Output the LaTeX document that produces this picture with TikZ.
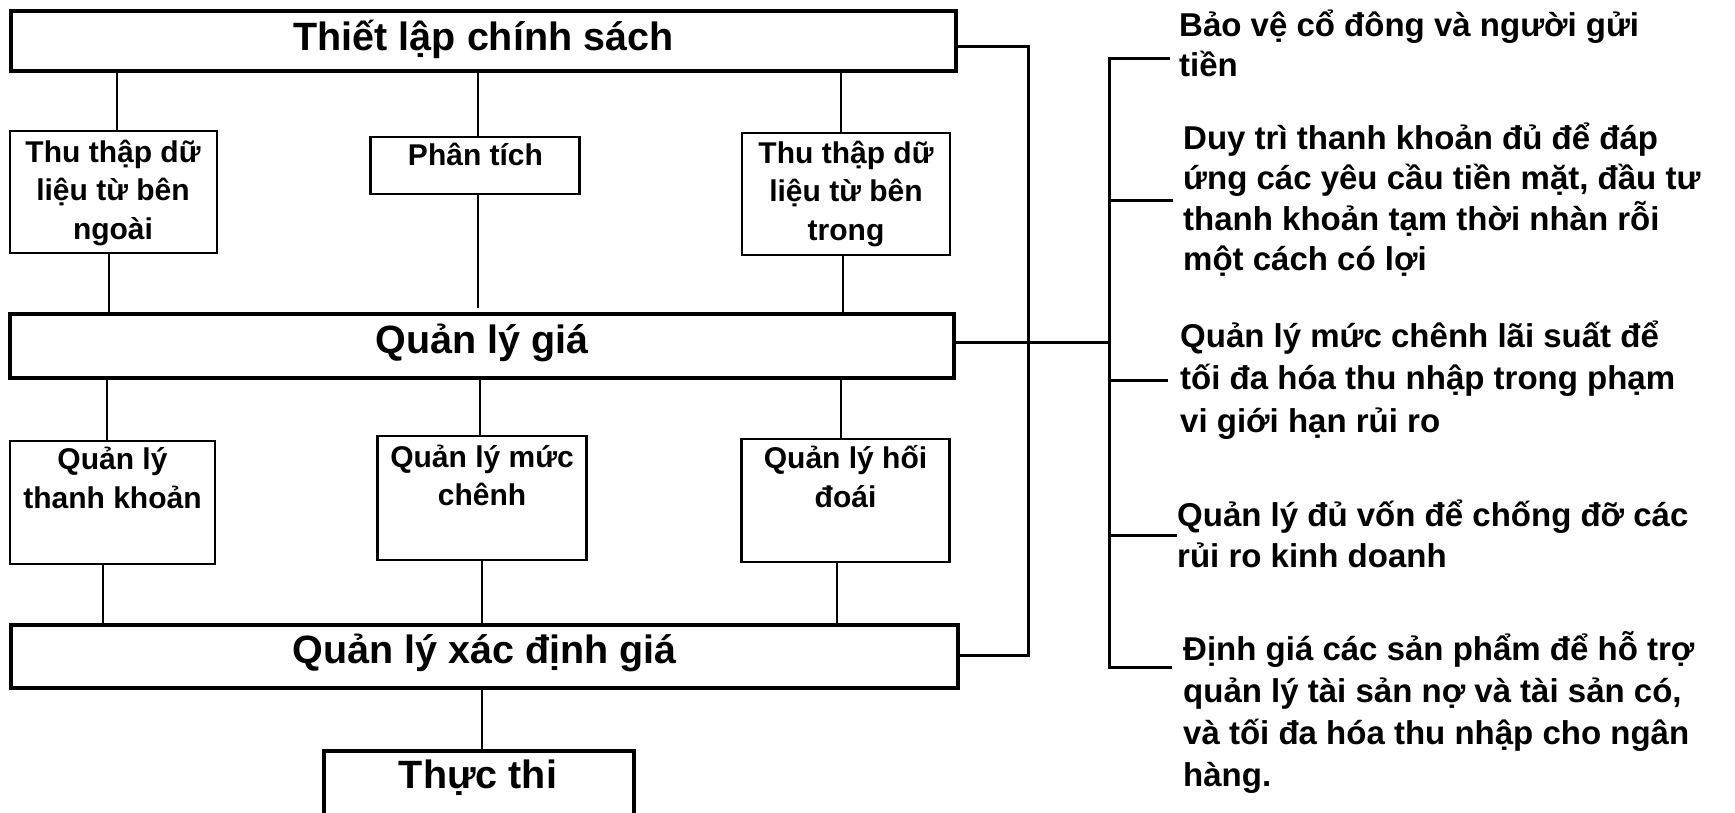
\documentclass[tikz,border=0pt]{standalone}
\usepackage{fontspec}
\setmainfont{Liberation Sans}

% Stacked lines with a fixed baseline distance; the box's baseline is the first line's.
\newcommand\linesC[2]{\vtop{\baselineskip=#1\lineskiplimit=-1000pt\relax\halign{\hfil##\hfil\cr#2\crcr}}}
\newcommand\linesL[2]{\vtop{\baselineskip=#1\lineskiplimit=-1000pt\relax\halign{##\hfil\cr#2\crcr}}}

\tikzset{
  bigbox/.style={draw, line width=4pt, inner sep=0pt, outer sep=0pt, fill=white},
  smallbox/.style={draw, line width=2.8pt, inner sep=0pt, outer sep=0pt, fill=white},
  bigtext/.style={inner sep=0pt, anchor=base, font=\fontsize{39.5}{47}\selectfont\bfseries},
  smalltext/.style={inner sep=0pt, anchor=base, font=\fontsize{30}{38}\selectfont\bfseries},
  sidetext/.style={inner sep=0pt, anchor=base west, font=\fontsize{33}{41}\selectfont\bfseries},
  conn/.style={line width=2.6pt},
  loopline/.style={line width=3pt},
}

\begin{document}
\begin{tikzpicture}[x=1pt, y=-1pt]
\useasboundingbox (0,0) rectangle (1735,812);
\clip (0,0) rectangle (1735,812);

% main chain of wide boxes
\node[bigbox, minimum width=945pt, minimum height=60pt]   (top)  at (483.5,41) {};
\node[bigbox, minimum width=944pt, minimum height=63.5pt] (mid)  at (482,345.75) {};
\node[bigbox, minimum width=947pt, minimum height=63pt]   (low)  at (484.5,656.5) {};
\node[bigbox, minimum width=310pt, minimum height=80pt]   (exec) at (479,790.5) {};

\node[bigtext] (ttop)  at (483.5,50) {Thiết lập chính sách};
\node[bigtext] (tmid)  at (482,353) {Quản lý giá};
\node[bigtext] (tlow)  at (484.5,663) {Quản lý xác định giá};
\node[bigtext] (texec) at (478,788) {Thực thi};

% first row of small boxes
\node[smallbox, minimum width=207pt, minimum height=122pt] (b1) at (113.5,192) {};
\node[smallbox, minimum width=209pt, minimum height=57pt]  (b2) at (475,165.5) {};
\node[smallbox, minimum width=208pt, minimum height=122pt] (b3) at (846,194) {};

\node[smalltext] (tb1) at (113,162) {\linesC{38.5pt}{Thu thập dữ\cr liệu từ bên\cr ngoài}};
\node[smalltext] (tb2) at (475.5,165) {Phân tích};
\node[smalltext] (tb3) at (846,163) {\linesC{38.5pt}{Thu thập dữ\cr liệu từ bên\cr trong}};

% second row of small boxes
\node[smallbox, minimum width=205pt, minimum height=123pt] (q1) at (112.5,502.5) {};
\node[smallbox, minimum width=209pt, minimum height=124pt] (q2) at (482,498) {};
\node[smallbox, minimum width=208pt, minimum height=123pt] (q3) at (845.5,500.5) {};

\node[smalltext] (tq1) at (112.5,469) {\linesC{39pt}{Quản lý\cr thanh khoản}};
\node[smalltext] (tq2) at (482,467) {\linesC{38.5pt}{Quản lý mức\cr chênh}};
\node[smalltext] (tq3) at (845.5,468) {\linesC{39pt}{Quản lý hối\cr đoái}};

% x positions of the vertical connectors
\coordinate (xa) at (117,0);  \coordinate (xb) at (478,0);  \coordinate (xc) at (841,0);
\coordinate (xd) at (109,0);  \coordinate (xe) at (478,0);  \coordinate (xf) at (843,0);
\coordinate (xg) at (107,0);  \coordinate (xh) at (480,0);  \coordinate (xi) at (841,0);
\coordinate (xj) at (103,0);  \coordinate (xk) at (482,0);  \coordinate (xl) at (837,0);
\coordinate (xm) at (482,0);

\draw[conn] (top.south -| xa) -- (b1.north -| xa);
\draw[conn] (top.south -| xb) -- (b2.north -| xb);
\draw[conn] (top.south -| xc) -- (b3.north -| xc);
\draw[conn] (b1.south -| xd) -- (mid.north -| xd);
\draw[conn, shorten >=6pt] (b2.south -| xe) -- (mid.north -| xe);
\draw[conn] (b3.south -| xf) -- (mid.north -| xf);
\draw[conn] (mid.south -| xg) -- (q1.north -| xg);
\draw[conn] (mid.south -| xh) -- (q2.north -| xh);
\draw[conn] (mid.south -| xi) -- (q3.north -| xi);
\draw[conn] (q1.south -| xj) -- (low.north -| xj);
\draw[conn] (q2.south -| xk) -- (low.north -| xk);
\draw[conn] (q3.south -| xl) -- (low.north -| xl);
\draw[conn] (low.south -| xm) -- (exec.north -| xm);

% feedback loop on the right of the main chain
\coordinate (loopTop) at (1028,46);
\coordinate (loopBot) at (1028,655);
\draw[loopline] (top.east |- loopTop) -- (loopTop) -- (loopBot) -- (low.east |- loopBot);

% bracket of objectives
\coordinate (brTop) at (1109,58);
\coordinate (brMid) at (1109,342);
\coordinate (brBot) at (1109,667);
\coordinate (tk1) at (1170,58);
\coordinate (tk2) at (1173,200);
\coordinate (tk3) at (1168,380);
\coordinate (tk4) at (1177,535);
\coordinate (tk5) at (1172,667);
\draw[loopline] (mid.east |- brMid) -- (brMid);
\draw[loopline] (tk1) -- (brTop) -- (brBot) -- (tk5);
\draw[loopline] (tk2 -| brTop) -- (tk2);
\draw[loopline] (tk3 -| brTop) -- (tk3);
\draw[loopline] (tk4 -| brTop) -- (tk4);

\node[sidetext] (s1) at (1179,36)  {\linesL{40pt}{Bảo vệ cổ đông và người gửi\cr tiền}};
\node[sidetext] (s2) at (1183,149) {\linesL{40.5pt}{Duy trì thanh khoản đủ để đáp\cr ứng các yêu cầu tiền mặt, đầu tư\cr thanh khoản tạm thời nhàn rỗi\cr một cách có lợi}};
\node[sidetext] (s3) at (1180,347) {\linesL{42.5pt}{Quản lý mức chênh lãi suất để\cr tối đa hóa thu nhập trong phạm\cr vi giới hạn rủi ro}};
\node[sidetext] (s4) at (1177,526) {\linesL{41pt}{Quản lý đủ vốn để chống đỡ các\cr rủi ro kinh doanh}};
\node[sidetext] (s5) at (1183,660) {\linesL{42pt}{Định giá các sản phẩm để hỗ trợ\cr quản lý tài sản nợ và tài sản có,\cr và tối đa hóa thu nhập cho ngân\cr hàng.}};
\end{tikzpicture}
\end{document}
